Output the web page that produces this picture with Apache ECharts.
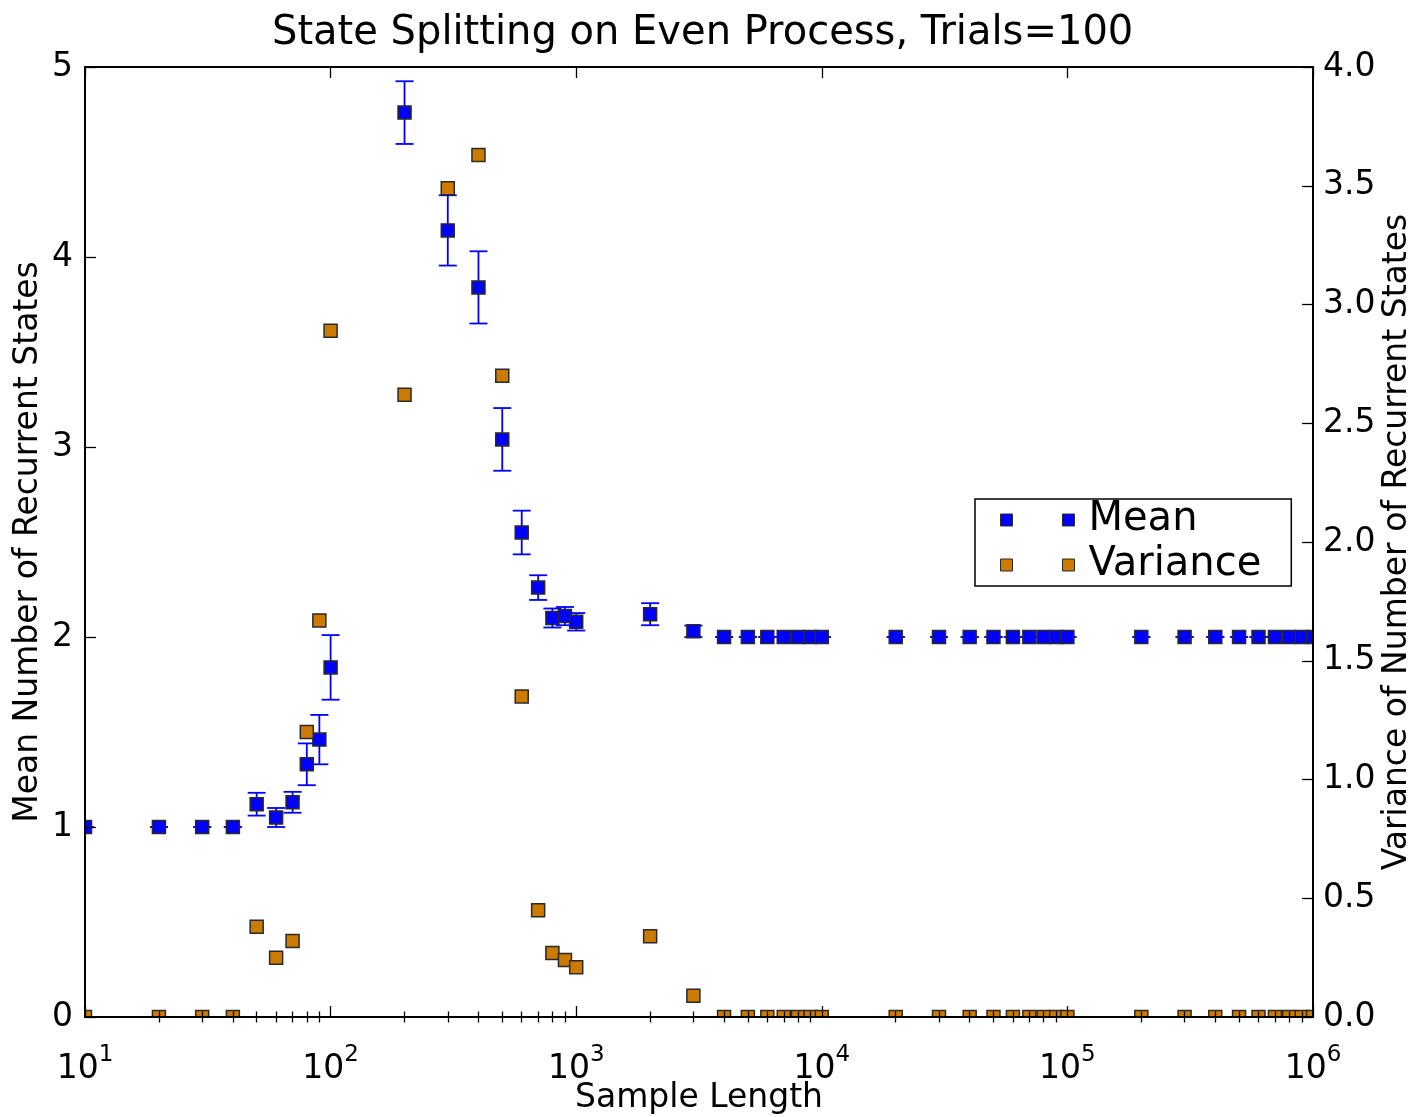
<!DOCTYPE html>
<html>
<head>
<meta charset="utf-8">
<title>State Splitting on Even Process</title>
<script src="https://cdn.jsdelivr.net/npm/echarts@6/dist/echarts.min.js"></script>
<style>
  html, body { margin: 0; padding: 0; background: #fff; }
  #chart { width: 1416px; height: 1117px; }
</style>
</head>
<body>
<div id="chart"></div>
<script>
// Sample lengths (x, log scale)
const sampleLengths = [
  10, 20, 30, 40, 50, 60, 70, 80, 90, 100,
  200, 300, 400, 500, 600, 700, 800, 900, 1000,
  2000, 3000, 4000, 5000, 6000, 7000, 8000, 9000, 10000,
  20000, 30000, 40000, 50000, 60000, 70000, 80000, 90000, 100000,
  200000, 300000, 400000, 500000, 600000, 700000, 800000, 900000, 1000000
];

// Mean number of recurrent states (left axis)
const meanStates = [
  1.00, 1.00, 1.00, 1.00, 1.12, 1.05, 1.13, 1.33, 1.46, 1.84,
  4.76, 4.14, 3.84, 3.04, 2.55, 2.26, 2.10, 2.11, 2.08,
  2.12, 2.03, 2.00, 2.00, 2.00, 2.00, 2.00, 2.00, 2.00,
  2.00, 2.00, 2.00, 2.00, 2.00, 2.00, 2.00, 2.00, 2.00,
  2.00, 2.00, 2.00, 2.00, 2.00, 2.00, 2.00, 2.00, 2.00
];

// Error bar half-heights for the mean
const meanErrors = [
  0, 0, 0, 0, 0.06, 0.05, 0.055, 0.11, 0.13, 0.17,
  0.165, 0.185, 0.19, 0.165, 0.115, 0.065, 0.05, 0.048, 0.046,
  0.058, 0.03, 0, 0, 0, 0, 0, 0, 0,
  0, 0, 0, 0, 0, 0, 0, 0, 0,
  0, 0, 0, 0, 0, 0, 0, 0, 0
];

// Variance of number of recurrent states (right axis)
const varianceStates = [
  0, 0, 0, 0, 0.38, 0.25, 0.32, 1.20, 1.67, 2.89,
  2.62, 3.49, 3.63, 2.70, 1.35, 0.45, 0.27, 0.24, 0.21,
  0.34, 0.09, 0, 0, 0, 0, 0, 0, 0,
  0, 0, 0, 0, 0, 0, 0, 0, 0,
  0, 0, 0, 0, 0, 0, 0, 0, 0
];

// Axis tick settings
const xMin = 10, xMax = 1000000;
const decadeExponents = [1, 2, 3, 4, 5];
const minorMantissas = [2, 3, 4, 5, 6, 7, 8, 9];
const leftTicks = { min: 0, max: 5, interval: 1 };
const rightTicks = { min: 0, max: 4, interval: 0.5 };

const FONT = 'DejaVu Sans';
const LABEL_SIZE = 33;
const BIG_SIZE = 40;
const BLUE = '#0000ff';
const ORANGE = '#cc7a00';
const EDGE = '#2a2a2a';
const HALF = 6.5;      // half side of a square marker
const CAP = 9;         // half width of an error-bar cap

// minor ticks at 2..9 x 10^k, placed on an exponent-valued helper axis
const minorTickExponents = [];
decadeExponents.forEach(function (k) {
  minorMantissas.forEach(function (m) { minorTickExponents.push(k + Math.log10(m)); });
});

const meanData = sampleLengths.map(function (n, i) { return [n, meanStates[i], meanErrors[i]]; });
const varData = sampleLengths.map(function (n, i) { return [n, varianceStates[i]]; });

function squareShape(p, fill) {
  return {
    type: 'rect',
    shape: { x: p[0] - HALF, y: p[1] - HALF, width: HALF * 2, height: HALF * 2 },
    style: { fill: fill, stroke: EDGE, lineWidth: 1.5 }
  };
}

const tickLine = { lineStyle: { color: '#000', width: 1.3 } };

function majorX(position, showLabel, withName) {
  return {
    type: 'log', logBase: 10, min: xMin, max: xMax, gridIndex: 0, position: position, z: 10,
    axisLine: { show: true, onZero: false, lineStyle: { color: '#000', width: 2 } },
    axisTick: Object.assign({ show: true, inside: true, length: 11 }, tickLine),
    splitLine: { show: false },
    axisLabel: showLabel ? {
      show: true, margin: 27, hideOverlap: false, showMinLabel: true, showMaxLabel: true,
      formatter: function (v) { return '{b|10}{s|' + Math.round(Math.log10(v)) + '}'; },
      rich: {
        b: { fontFamily: FONT, fontSize: LABEL_SIZE, lineHeight: 42, verticalAlign: 'bottom', color: '#000' },
        s: { fontFamily: FONT, fontSize: 23, lineHeight: 24, verticalAlign: 'top', color: '#000' }
      }
    } : { show: false },
    name: withName ? 'Sample Length' : '',
    nameLocation: 'middle', nameGap: 65, nameMoveOverlap: false,
    nameTextStyle: { fontFamily: FONT, fontSize: LABEL_SIZE, color: '#000' }
  };
}

function minorX(position) {
  return {
    type: 'value', min: 1, max: 6, gridIndex: 0, position: position, z: 10,
    axisLine: { show: false },
    axisTick: Object.assign({ show: true, inside: true, length: 5.5, customValues: minorTickExponents }, tickLine),
    axisLabel: { show: false },
    splitLine: { show: false }
  };
}

const option = {
  animation: false,
  backgroundColor: '#fff',
  title: {
    text: 'State Splitting on Even Process, Trials=100',
    left: 267, top: 9,
    textStyle: { fontFamily: FONT, fontSize: BIG_SIZE, fontWeight: 'normal', color: '#000' }
  },
  grid: { left: 85, right: 103, top: 67, bottom: 100, containLabel: false, outerBoundsMode: 'none' },
  legend: {
    orient: 'vertical', left: 975, top: 499,
    padding: [1, 30, 1, 25], itemGap: 5,
    itemWidth: 74, itemHeight: 12,
    borderColor: '#000', borderWidth: 1.5, borderRadius: 0, backgroundColor: '#fff',
    selectedMode: false,
    textStyle: { fontFamily: FONT, fontSize: BIG_SIZE, lineHeight: 40, color: '#000', padding: [0, 0, 0, 9] },
    data: [
      { name: 'Mean', icon: 'path://M0,0h12v12h-12z M62,0h12v12h-12z',
        itemStyle: { color: BLUE, borderColor: EDGE, borderWidth: 1 } },
      { name: 'Variance', icon: 'path://M0,0h12v12h-12z M62,0h12v12h-12z',
        itemStyle: { color: ORANGE, borderColor: EDGE, borderWidth: 1 } }
    ]
  },
  xAxis: [
    majorX('bottom', true, true),
    minorX('bottom'),
    majorX('top', false, false),
    minorX('top')
  ],
  yAxis: [
    {
      type: 'value', position: 'left', min: leftTicks.min, max: leftTicks.max, interval: leftTicks.interval, z: 10,
      axisLine: { show: true, onZero: false, lineStyle: { color: '#000', width: 2 } },
      axisTick: Object.assign({ show: true, inside: true, length: 11 }, tickLine),
      splitLine: { show: false },
      axisLabel: { fontFamily: FONT, fontSize: LABEL_SIZE, color: '#000', margin: 12 },
      name: 'Mean Number of Recurrent States', nameLocation: 'middle', nameGap: 40, nameRotate: 90,
      nameMoveOverlap: false,
      nameTextStyle: { fontFamily: FONT, fontSize: LABEL_SIZE, color: '#000' }
    },
    {
      type: 'value', position: 'right', min: rightTicks.min, max: rightTicks.max, interval: rightTicks.interval, z: 10,
      axisLine: { show: true, onZero: false, lineStyle: { color: '#000', width: 2 } },
      axisTick: Object.assign({ show: true, inside: true, length: 11 }, tickLine),
      splitLine: { show: false },
      axisLabel: { fontFamily: FONT, fontSize: LABEL_SIZE, color: '#000', margin: 10,
        formatter: function (v) { return v.toFixed(1); } },
      name: 'Variance of Number of Recurrent States', nameLocation: 'middle', nameGap: 68, nameRotate: 90,
      nameMoveOverlap: false,
      nameTextStyle: { fontFamily: FONT, fontSize: LABEL_SIZE, color: '#000' }
    }
  ],
  series: [
    {
      name: 'Mean', type: 'custom', xAxisIndex: 0, yAxisIndex: 0, clip: true, z: 2,
      itemStyle: { color: BLUE, borderColor: EDGE, borderWidth: 1 },
      encode: { x: 0, y: 1 },
      data: meanData,
      renderItem: function (params, api) {
        const x = api.value(0), m = api.value(1), e = api.value(2);
        const c = api.coord([x, m]);
        const hi = api.coord([x, m + e]);
        const lo = api.coord([x, m - e]);
        const bar = { stroke: BLUE, lineWidth: 1.8 };
        return {
          type: 'group',
          children: [
            { type: 'line', shape: { x1: c[0], y1: hi[1], x2: c[0], y2: lo[1] }, style: bar },
            { type: 'line', shape: { x1: c[0] - CAP, y1: hi[1], x2: c[0] + CAP, y2: hi[1] }, style: bar },
            { type: 'line', shape: { x1: c[0] - CAP, y1: lo[1], x2: c[0] + CAP, y2: lo[1] }, style: bar },
            squareShape(c, BLUE)
          ]
        };
      }
    },
    {
      name: 'Variance', type: 'custom', xAxisIndex: 0, yAxisIndex: 1, clip: true, z: 3,
      itemStyle: { color: ORANGE, borderColor: EDGE, borderWidth: 1 },
      encode: { x: 0, y: 1 },
      data: varData,
      renderItem: function (params, api) {
        return squareShape(api.coord([api.value(0), api.value(1)]), ORANGE);
      }
    }
  ]
};

const chart = echarts.init(document.getElementById('chart'), null, { renderer: 'canvas' });
chart.setOption(option);
</script>
</body>
</html>
